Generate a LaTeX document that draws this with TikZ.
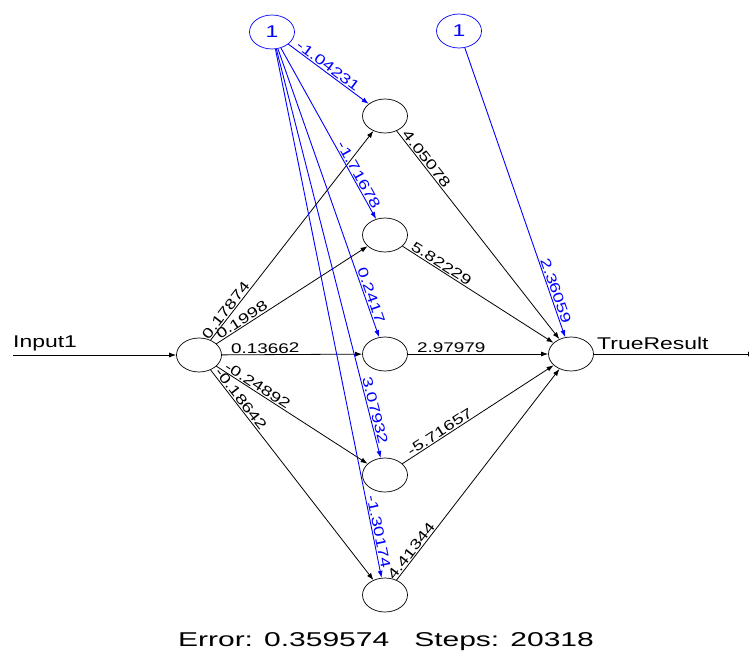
\documentclass[tikz,border=0pt]{standalone}
\usepackage{fontspec}
\setmainfont{Liberation Sans}
\usetikzlibrary{shapes.geometric,arrows.meta}
% plotted text is stretched sideways
\newcommand{\wt}[1]{\scalebox{1.35}[1]{#1}}

\begin{document}
\begin{tikzpicture}[x=1pt,y=-1pt,>={Latex[length=7pt,width=5pt]},
	neuron/.style={ellipse,draw,line width=0.7pt,minimum width=45pt,minimum height=34pt,inner sep=0pt},
	bias/.style={neuron,blue,text=blue,font=\fontsize{17}{17}\selectfont},
	wgt/.style={sloped,above,inner sep=1pt,font=\fontsize{14}{14}\selectfont},
	conn/.style={->,line width=0.8pt},
	bconn/.style={->,blue,line width=0.9pt}]
	\useasboundingbox (0,0) rectangle (749,671);
	
	\node[neuron] (in) at (199,355) {}; \node[neuron] (out) at (571,354) {};
	\node[bias] (b1) at (272,32) {\wt{1}}; \node[bias] (b2) at (459,31) {\wt{1}};
	\node[neuron] (h1) at (385,116) {}; \node[neuron] (h2) at (385,235) {}; \node[neuron] (h3) at (385,354) {};
	\node[neuron] (h4) at (385,475) {}; \node[neuron] (h5) at (385,595) {};
	\coordinate (x1) at (13,355); \coordinate (y1) at (755,354);
	
	% input and output lines
	\draw[conn] (x1) -- (in); \draw[conn] (out) -- (y1);
	\node[anchor=south west,inner sep=0pt,font=\fontsize{17}{17}\selectfont] (xlbl) at (13,351) {\wt{Input1}};
	\node[anchor=south west,inner sep=0pt,font=\fontsize{17}{17}\selectfont] (ylbl) at (597,350) {\wt{TrueResult}};
	
	% input layer to hidden layer
	\draw[conn] (in) -- node[wgt,pos=0.124]{\wt{0.17874}} (h1); \draw[conn] (in) -- node[wgt,pos=0.19]{\wt{0.1998}} (h2);
	\draw[conn] (in) -- node[wgt,pos=0.31]{\wt{0.13662}} (h3);
	\draw[conn] (in) -- node[wgt,pos=0.25]{\wt{-0.24892}} (h4); \draw[conn] (in) -- node[wgt,pos=0.156]{\wt{-0.18642}} (h5);
	
	% bias of the hidden layer
	\draw[bconn] (b1) -- node[wgt,pos=0.45]{\wt{-1.04231}} (h1); \draw[bconn] (b1) -- node[wgt,pos=0.76]{\wt{-1.71678}} (h2);
	\draw[bconn] (b1) -- node[wgt,pos=0.863]{\wt{0.2417}} (h3);
	\draw[bconn] (b1) -- node[wgt,pos=0.888]{\wt{3.07932}} (h4); \draw[bconn] (b1) -- node[wgt,pos=0.915]{\wt{-1.30174}} (h5);
	
	% hidden layer to output
	\draw[conn] (h1) -- node[wgt,pos=0.153]{\wt{4.05078}} (out); \draw[conn] (h2) -- node[wgt,pos=0.236]{\wt{5.82229}} (out);
	\draw[conn] (h3) -- node[wgt,pos=0.31]{\wt{2.97979}} (out);
	\draw[conn] (h4) -- node[wgt,pos=0.27]{\wt{-5.71657}} (out); \draw[conn] (h5) -- node[wgt,pos=0.12]{\wt{4.41344}} (out);
	\draw[bconn] (b2) -- node[wgt,pos=0.847]{\wt{2.36059}} (out);
	
	\node[font=\fontsize{20}{20}\selectfont] (err) at (386,642) {\scalebox{1.5}[1]{Error: 0.359574\ \ \ Steps: 20318}};
\end{tikzpicture}
\end{document}
